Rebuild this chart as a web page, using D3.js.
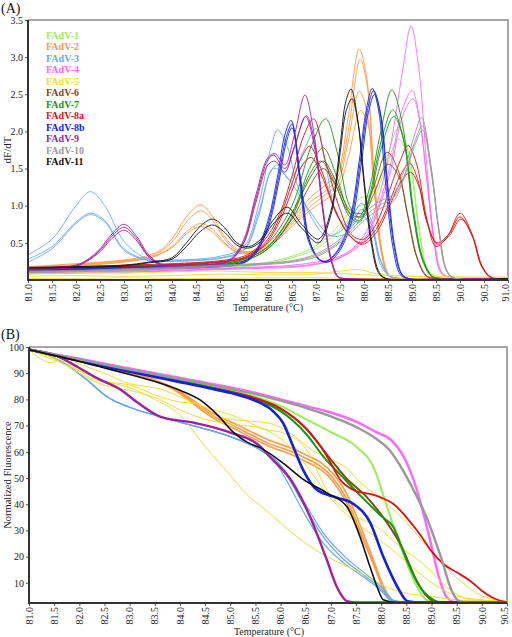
<!DOCTYPE html>
<html><head><meta charset="utf-8">
<script src="https://cdn.jsdelivr.net/npm/d3@7"></script>
<style>body{margin:0;background:#fff}svg{display:block}text{font-family:"Liberation Serif","DejaVu Serif",serif}</style>
</head><body><svg id="c" width="512" height="637"></svg>
<script>
// ---------- categories & colours ----------
const types = ["FAdV-1","FAdV-2","FAdV-3","FAdV-4","FAdV-5","FAdV-6","FAdV-7","FAdV-8a","FAdV-8b","FAdV-9","FAdV-10","FAdV-11"];
const typeColors = ["#99ee55","#ff9944","#66aaf0","#ff66ff","#eedd33","#8b4513","#119911","#dd1111","#1122dd","#a020a0","#999999","#111111"];

// ---------- tick labels ----------
const tempTicksA = [81.0,81.5,82.0,82.5,83.0,83.5,84.0,84.5,85.0,85.5,86.0,86.5,87.0,87.5,88.0,88.5,89.0,89.5,90.0,90.5,91.0];
const dfTicks = [0.5,1.0,1.5,2.0,2.5,3.0,3.5];
const tempTicksB = [81.0,81.5,82.0,82.5,83.0,83.5,84.0,84.5,85.0,85.5,86.0,86.5,87.0,87.5,88.0,88.5,89.0,89.5,90.0,90.5];
const fluorTicks = [10,20,30,40,50,60,70,80,90,100];

// ---------- (A) derivative melt curves, [temperature, dF/dT] per replicate ----------
const derivFAdV1 = [
 [[81,0.1],[82,0.1],[83,0.12],[84,0.14],[85,0.17],[85.5,0.2],[86,0.24],[86.5,0.32],[87,0.46],[87.5,0.75],[87.92,1.1],[88.15,1.15],[88.45,1.6],[88.72,2.05],[88.95,1.65],[89.15,0.7],[89.35,0.12],[89.6,0.03],[91,0.02]],
 [[81,0.08],[82,0.09],[83,0.1],[84,0.12],[85,0.15],[85.5,0.18],[86,0.22],[86.5,0.3],[87,0.42],[87.5,0.68],[87.92,1.0],[88.15,1.05],[88.45,1.5],[88.72,1.9],[88.95,1.55],[89.15,0.65],[89.35,0.1],[89.6,0.03],[91,0.02]]
];
const derivFAdV2 = [
 [[81,0.18],[81.5,0.2],[82,0.22],[82.5,0.24],[83,0.27],[83.5,0.33],[83.8,0.42],[84.05,0.6],[84.3,0.85],[84.6,1.01],[84.85,0.85],[85.1,0.58],[85.35,0.42],[85.6,0.38],[85.85,0.44],[86.1,0.55],[86.5,0.82],[86.9,1.12],[87.2,1.28],[87.45,1.45],[87.65,2.1],[87.9,3.11],[88.05,2.75],[88.2,1.45],[88.35,0.45],[88.5,0.08],[88.7,0.02],[91,0.02]],
 [[81,0.17],[81.5,0.19],[82,0.21],[82.5,0.23],[83,0.26],[83.5,0.31],[83.8,0.4],[84.05,0.55],[84.3,0.78],[84.6,0.93],[84.85,0.8],[85.1,0.55],[85.35,0.4],[85.6,0.37],[85.85,0.42],[86.1,0.52],[86.5,0.78],[86.9,1.06],[87.2,1.2],[87.45,1.38],[87.67,2.0],[87.92,2.97],[88.07,2.6],[88.22,1.35],[88.37,0.4],[88.52,0.07],[88.7,0.02],[91,0.02]],
 [[81,0.16],[81.5,0.18],[82,0.2],[82.5,0.22],[83,0.25],[83.5,0.3],[83.8,0.37],[84.05,0.48],[84.3,0.65],[84.6,0.76],[84.85,0.68],[85.1,0.5],[85.35,0.38],[85.6,0.36],[85.85,0.4],[86.1,0.5],[86.5,0.75],[86.9,1.0],[87.2,1.15],[87.45,1.3],[87.65,1.8],[87.9,2.54],[88.05,2.3],[88.2,1.3],[88.35,0.4],[88.5,0.07],[88.7,0.02],[91,0.02]],
 [[81,0.15],[81.5,0.17],[82,0.19],[82.5,0.21],[83,0.24],[83.5,0.29],[83.8,0.36],[84.05,0.46],[84.3,0.62],[84.6,0.72],[84.85,0.64],[85.1,0.48],[85.35,0.37],[85.6,0.35],[85.85,0.39],[86.1,0.48],[86.5,0.72],[86.9,0.95],[87.2,1.08],[87.45,1.22],[87.67,1.65],[87.93,2.28],[88.08,2.1],[88.23,1.2],[88.38,0.35],[88.53,0.06],[88.7,0.02],[91,0.02]]
];
const derivFAdV3 = [
 [[81,0.34],[81.5,0.55],[82,1.0],[82.3,1.19],[82.6,1.0],[83,0.52],[83.5,0.28],[84,0.27],[84.5,0.28],[85,0.32],[85.5,0.45],[85.8,1.0],[86.05,1.75],[86.2,2.02],[86.4,1.8],[86.6,1.3],[86.9,0.85],[87.2,0.6],[87.5,0.65],[87.75,0.85],[87.95,1.03],[88.15,0.8],[88.35,0.25],[88.55,0.05],[88.8,0.02],[91,0.02]],
 [[81,0.28],[81.5,0.45],[82,0.78],[82.3,0.9],[82.6,0.8],[83,0.42],[83.5,0.27],[84,0.26],[84.5,0.27],[85,0.3],[85.5,0.42],[85.8,0.9],[86.05,1.45],[86.2,1.55],[86.45,1.35],[86.75,1.75],[87.0,2.04],[87.2,1.55],[87.45,0.85],[87.7,0.72],[87.95,0.95],[88.15,0.75],[88.35,0.25],[88.55,0.05],[88.8,0.02],[91,0.02]],
 [[81,0.24],[81.5,0.42],[82,0.76],[82.3,0.88],[82.6,0.78],[83,0.4],[83.5,0.26],[84,0.25],[84.5,0.26],[85,0.29],[85.5,0.4],[85.8,0.85],[86.1,1.5],[86.3,1.45],[86.6,1.2],[86.9,0.9],[87.3,0.6],[87.6,0.62],[87.9,0.9],[88.15,0.7],[88.35,0.2],[88.55,0.04],[88.8,0.02],[91,0.02]]
];
const derivFAdV4 = [
 [[81,0.1],[82,0.1],[83,0.12],[84,0.13],[85,0.15],[86,0.17],[86.5,0.18],[87,0.22],[87.5,0.3],[88,0.6],[88.3,1.1],[88.55,1.8],[88.8,2.8],[88.98,3.42],[89.15,2.8],[89.3,1.6],[89.45,0.6],[89.6,0.12],[89.8,0.03],[91,0.02]],
 [[81,0.12],[82,0.12],[83,0.14],[84,0.15],[85,0.16],[86,0.18],[86.5,0.2],[87,0.24],[87.5,0.32],[88,0.55],[88.3,1.0],[88.55,1.55],[88.8,2.3],[89.0,2.55],[89.15,2.2],[89.3,1.4],[89.45,0.55],[89.6,0.1],[89.8,0.03],[91,0.02]],
 [[81,0.09],[82,0.1],[83,0.11],[84,0.12],[85,0.14],[86,0.16],[86.5,0.17],[87,0.21],[87.5,0.3],[88,0.52],[88.3,0.95],[88.55,1.45],[88.8,2.2],[89.02,2.44],[89.17,2.1],[89.32,1.3],[89.47,0.5],[89.62,0.1],[89.8,0.03],[91,0.02]]
];
const derivFAdV5 = [
 [[81,0.05],[82,0.06],[83,0.05],[84,0.06],[85,0.08],[86,0.07],[87,0.08],[87.5,0.12],[87.9,0.14],[88.3,0.08],[89,0.05],[90,0.04],[91,0.03]],
 [[81,0.02],[82,0.02],[83,0.03],[84,0.02],[85,0.02],[86,0.03],[87,0.03],[88,0.02],[89,0.02],[90,0.02],[91,0.02]],
 [[81,0.08],[82,0.1],[83,0.09],[84,0.11],[85,0.12],[86,0.1],[87,0.1],[88,0.07],[89,0.05],[90,0.04],[91,0.04]]
];
const derivFAdV6 = [
 [[81,0.14],[82,0.16],[83,0.18],[84,0.2],[85,0.22],[85.5,0.28],[86,0.45],[86.5,0.9],[86.9,1.4],[87.15,1.6],[87.4,1.35],[87.7,0.95],[87.95,0.9],[88.2,1.25],[88.48,1.72],[88.7,1.5],[88.9,0.9],[89.1,0.3],[89.3,0.05],[89.5,0.02],[91,0.02]],
 [[81,0.13],[82,0.15],[83,0.17],[84,0.19],[85,0.21],[85.5,0.26],[86,0.42],[86.5,0.82],[86.9,1.3],[87.15,1.5],[87.4,1.28],[87.7,0.9],[87.95,0.85],[88.2,1.15],[88.5,1.56],[88.72,1.4],[88.92,0.85],[89.12,0.28],[89.32,0.05],[89.5,0.02],[91,0.02]]
];
const derivFAdV7 = [
 [[81,0.15],[82,0.16],[83,0.18],[84,0.2],[85,0.24],[85.5,0.3],[86,0.5],[86.5,1.0],[86.9,1.8],[87.2,2.17],[87.45,1.7],[87.7,1.0],[87.9,0.85],[88.1,1.2],[88.35,2.0],[88.58,2.56],[88.8,2.1],[89.0,1.0],[89.2,0.3],[89.4,0.05],[89.6,0.02],[91,0.02]],
 [[81,0.14],[82,0.15],[83,0.17],[84,0.19],[85,0.22],[85.5,0.28],[86,0.45],[86.5,0.9],[86.9,1.55],[87.15,1.78],[87.4,1.45],[87.7,0.9],[87.9,0.8],[88.1,1.1],[88.35,1.85],[88.6,2.29],[88.82,1.9],[89.02,0.95],[89.22,0.28],[89.42,0.05],[89.6,0.02],[91,0.02]],
 [[81,0.13],[82,0.14],[83,0.16],[84,0.18],[85,0.21],[85.5,0.26],[86,0.42],[86.5,0.85],[86.85,1.4],[87.1,1.6],[87.4,1.3],[87.7,0.85],[87.9,0.78],[88.1,1.05],[88.37,1.8],[88.62,2.2],[88.84,1.85],[89.04,0.9],[89.24,0.26],[89.44,0.04],[89.6,0.02],[91,0.02]]
];
const derivFAdV8a = [
 [[81,0.16],[82,0.18],[83,0.2],[84,0.22],[85,0.26],[85.5,0.32],[85.75,0.42],[86,0.6],[86.25,0.9],[86.5,1.4],[86.75,1.95],[86.95,2.17],[87.2,1.6],[87.5,0.95],[87.75,0.6],[88,0.55],[88.25,0.75],[88.5,1.15],[88.75,1.6],[88.92,1.81],[89.1,1.55],[89.3,0.85],[89.5,0.45],[89.75,0.6],[90,0.9],[90.25,0.62],[90.45,0.2],[90.65,0.03],[91,0.02]],
 [[81,0.15],[82,0.17],[83,0.19],[84,0.21],[85,0.25],[85.5,0.3],[85.75,0.4],[86,0.55],[86.25,0.85],[86.5,1.3],[86.7,1.65],[86.87,1.8],[87.1,1.5],[87.4,0.95],[87.7,0.6],[87.95,0.5],[88.25,0.68],[88.5,1.0],[88.75,1.4],[88.95,1.57],[89.12,1.35],[89.3,0.8],[89.52,0.5],[89.77,0.62],[90,0.85],[90.25,0.6],[90.45,0.18],[90.65,0.03],[91,0.02]],
 [[81,0.14],[82,0.16],[83,0.18],[84,0.2],[85,0.24],[85.5,0.29],[85.75,0.38],[86,0.52],[86.25,0.8],[86.5,1.2],[86.72,1.55],[86.9,1.65],[87.12,1.4],[87.42,0.9],[87.72,0.58],[87.97,0.48],[88.27,0.65],[88.52,0.98],[88.77,1.32],[88.97,1.45],[89.15,1.25],[89.33,0.75],[89.53,0.48],[89.78,0.6],[90.02,0.82],[90.27,0.57],[90.47,0.17],[90.67,0.03],[91,0.02]]
];
const derivFAdV8b = [
 [[81,0.14],[82,0.15],[83,0.17],[84,0.18],[85,0.2],[85.5,0.25],[85.75,0.4],[86,0.8],[86.2,1.4],[86.35,1.95],[86.48,2.15],[86.65,1.4],[86.83,0.55],[87.05,0.28],[87.2,0.25],[87.45,0.4],[87.7,0.8],[87.9,1.6],[88.05,2.3],[88.17,2.58],[88.3,2.3],[88.45,1.3],[88.6,0.45],[88.75,0.08],[88.9,0.02],[91,0.02]],
 [[81,0.13],[82,0.14],[83,0.16],[84,0.17],[85,0.19],[85.5,0.24],[85.75,0.38],[86,0.75],[86.22,1.38],[86.37,1.9],[86.5,2.1],[86.67,1.38],[86.85,0.55],[87.07,0.28],[87.22,0.25],[87.47,0.4],[87.72,0.8],[87.92,1.58],[88.07,2.28],[88.2,2.55],[88.33,2.28],[88.48,1.28],[88.63,0.44],[88.78,0.08],[88.92,0.02],[91,0.02]],
 [[81,0.12],[82,0.13],[83,0.15],[84,0.16],[85,0.18],[85.5,0.23],[85.75,0.36],[86,0.7],[86.22,1.3],[86.38,1.85],[86.5,2.05],[86.68,1.35],[86.87,0.52],[87.08,0.27],[87.24,0.24],[87.48,0.38],[87.74,0.78],[87.94,1.55],[88.09,2.25],[88.22,2.5],[88.35,2.22],[88.5,1.25],[88.65,0.42],[88.8,0.07],[88.94,0.02],[91,0.02]]
];
const derivFAdV9 = [
 [[81,0.15],[81.5,0.17],[82,0.2],[82.25,0.28],[82.5,0.42],[82.75,0.62],[83,0.75],[83.25,0.6],[83.5,0.35],[83.75,0.22],[84,0.2],[84.5,0.2],[85,0.23],[85.25,0.3],[85.5,0.55],[85.75,1.15],[86.0,1.65],[86.15,1.7],[86.35,1.55],[86.55,1.95],[86.77,2.49],[86.95,2.0],[87.15,0.9],[87.3,0.3],[87.45,0.04],[87.6,0.02],[91,0.02]],
 [[81,0.14],[81.5,0.16],[82,0.19],[82.25,0.27],[82.5,0.4],[82.75,0.59],[83,0.71],[83.25,0.57],[83.5,0.33],[83.75,0.21],[84,0.19],[84.5,0.19],[85,0.22],[85.25,0.28],[85.5,0.5],[85.75,1.05],[86.0,1.55],[86.15,1.6],[86.35,1.45],[86.55,1.8],[86.8,2.21],[86.97,1.85],[87.17,0.85],[87.32,0.28],[87.47,0.04],[87.6,0.02],[91,0.02]],
 [[81,0.13],[81.5,0.15],[82,0.18],[82.25,0.26],[82.5,0.38],[82.75,0.56],[83,0.67],[83.25,0.54],[83.5,0.32],[83.75,0.2],[84,0.18],[84.5,0.18],[85,0.21],[85.25,0.28],[85.5,0.52],[85.75,1.1],[86.0,1.62],[86.12,1.68],[86.35,1.5],[86.55,1.78],[86.78,2.2],[86.96,1.82],[87.16,0.84],[87.31,0.28],[87.46,0.04],[87.6,0.02],[91,0.02]]
];
const derivFAdV10 = [
 [[81,0.12],[82,0.13],[83,0.15],[84,0.17],[85,0.2],[86,0.23],[86.5,0.26],[87,0.35],[87.5,0.55],[88,0.9],[88.3,1.05],[88.6,1.15],[88.85,1.5],[89.05,1.95],[89.2,2.19],[89.38,1.6],[89.55,0.7],[89.7,0.15],[89.85,0.03],[91,0.02]],
 [[81,0.11],[82,0.12],[83,0.14],[84,0.16],[85,0.19],[86,0.22],[86.5,0.25],[87,0.33],[87.5,0.52],[88,0.85],[88.3,1.0],[88.6,1.1],[88.85,1.42],[89.05,1.85],[89.22,2.08],[89.4,1.5],[89.57,0.65],[89.72,0.14],[89.87,0.03],[91,0.02]],
 [[81,0.1],[82,0.11],[83,0.13],[84,0.15],[85,0.18],[86,0.21],[86.5,0.24],[87,0.31],[87.5,0.5],[88,0.8],[88.3,0.95],[88.6,1.05],[88.85,1.4],[89.05,1.8],[89.22,2.02],[89.4,1.45],[89.57,0.62],[89.72,0.13],[89.87,0.03],[91,0.02]]
];
const derivFAdV11 = [
 [[81,0.17],[82,0.18],[83,0.2],[83.5,0.24],[84,0.3],[84.3,0.5],[84.6,0.73],[84.85,0.82],[85.1,0.7],[85.35,0.5],[85.6,0.45],[85.85,0.55],[86.1,0.8],[86.4,0.98],[86.7,0.75],[87.05,0.55],[87.3,0.9],[87.5,1.8],[87.62,2.4],[87.73,2.57],[87.86,2.2],[88.0,1.3],[88.15,0.5],[88.3,0.1],[88.45,0.02],[91,0.02]],
 [[81,0.16],[82,0.17],[83,0.19],[83.5,0.23],[84,0.28],[84.3,0.45],[84.6,0.66],[84.85,0.74],[85.1,0.64],[85.35,0.47],[85.6,0.43],[85.85,0.52],[86.1,0.75],[86.4,0.9],[86.7,0.7],[87.05,0.5],[87.3,0.85],[87.5,1.7],[87.63,2.28],[87.75,2.44],[87.88,2.1],[88.02,1.25],[88.17,0.48],[88.32,0.1],[88.47,0.02],[91,0.02]]
];

// ---------- (B) normalized melt curves, [temperature, fluorescence %] ----------
const meltFAdV1 = [
 [[81,99],[81.5,97.2],[82,95.4],[82.5,93.5],[83,91.6],[83.5,89.6],[84,87.6],[84.5,85.6],[85,83.5],[85.5,81],[86,77.5],[86.5,72.5],[87,67.5],[87.5,62],[87.85,54],[88.1,40],[88.4,23],[88.7,9],[88.9,3.5],[89.2,2.5],[90.5,2.5]]
];
const meltFAdV2 = [
 [[81,99],[81.5,96.8],[82,94.6],[82.5,92.3],[83,90],[83.5,87.5],[84,83],[84.4,77.8],[84.7,74.2],[85.06,71],[85.4,67.8],[85.73,64.8],[86.4,59.8],[87.05,51.5],[87.3,44.5],[87.6,31],[87.85,18.5],[88.05,8.5],[88.25,3.2],[88.5,2.5],[90.5,2.5]],
 [[81,99],[81.5,96.8],[82,94.6],[82.5,92.3],[83,90],[83.5,87.3],[84,82.6],[84.4,77],[84.7,73.2],[85.06,70],[85.4,66.6],[85.73,63.5],[86.4,58.5],[87.05,49.8],[87.3,42.5],[87.6,29],[87.85,17],[88.05,7.5],[88.25,3],[88.5,2.5],[90.5,2.5]],
 [[81,99],[81.5,96.8],[82,94.6],[82.5,92.3],[83,90],[83.5,87.1],[84,82.2],[84.4,76.3],[84.7,72.4],[85.06,69],[85.4,65.6],[85.73,62.5],[86.4,57.3],[87.05,48.5],[87.3,41],[87.6,28],[87.9,15],[88.1,6],[88.3,2.8],[88.5,2.5],[90.5,2.5]]
];
const meltFAdV3 = [
 [[81,99],[81.6,95],[82.15,87.5],[82.55,81],[83,77],[83.6,73.5],[84.3,69.8],[85,65.8],[85.6,60.7],[85.9,56],[86.12,49],[86.4,39],[86.8,26.3],[87.25,17.6],[87.65,12.2],[88,7],[88.2,3.2],[88.5,2.5],[90.5,2.5]],
 [[81,99],[81.6,95],[82.15,87.5],[82.55,81],[83,77],[83.6,73.5],[84.3,69.8],[85,65.8],[85.6,60.7],[85.9,57],[86.15,51],[86.45,41.5],[86.85,29],[87.25,20.5],[87.65,14],[88,8.5],[88.25,3.2],[88.5,2.5],[90.5,2.5]],
 [[81,99],[81.6,95],[82.15,87.5],[82.55,81],[83,77],[83.6,73.5],[84.3,69.8],[85,65.8],[85.6,60.7],[85.9,56.5],[86.15,50],[86.45,40],[86.85,27.5],[87.25,19],[87.65,13],[88,7.7],[88.22,3],[88.5,2.5],[90.5,2.5]]
];
const meltFAdV4 = [
 [[81,99],[81.5,97.3],[82,95.5],[82.5,93.6],[83,91.8],[83.5,90],[84,88.2],[84.5,86.4],[85,84.6],[85.5,82.5],[86,80],[86.5,77.5],[87,75],[87.5,71.5],[87.9,67.5],[88.2,64.5],[88.45,58],[88.7,46],[88.95,28],[89.15,12],[89.3,4.5],[89.5,2.5],[90.5,2.5]]
];
const meltFAdV5 = [
 [[81,99],[81.5,95],[82,91],[82.5,87],[83,84.5],[83.5,80],[84,74],[84.5,62],[85,51],[85.3,44.3],[85.7,37.8],[86,32.8],[86.6,23.7],[87.05,18.7],[87.6,13.7],[88.1,8.4],[88.5,6],[88.9,5],[89.5,3.5],[90,3],[90.5,2.5]],
 [[81,99],[81.45,94],[81.7,96],[82,93.5],[82.5,90],[83,86],[83.3,85],[83.6,84],[84,81],[84.43,77.5],[85.1,73.5],[85.75,68.3],[86,67.5],[86.52,60.7],[86.92,45.4],[87.38,36.6],[87.92,31.3],[88.38,23.7],[88.91,16],[89.3,8.4],[89.8,3.5],[90.5,3]],
 [[81,99],[81.5,96],[82,91],[82.3,87.5],[82.6,86.5],[83,85.5],[83.6,81],[84,79],[84.3,78.5],[84.6,74],[85.2,72],[85.75,71],[86.2,67],[86.6,61],[87,57],[87.3,54],[87.6,48],[88,42],[88.5,33],[89,22],[89.5,12],[90,5],[90.5,3]],
 [[81,99],[81.5,95.5],[82,90],[82.4,86],[82.8,84.2],[83.2,82.5],[83.6,80],[84,76],[84.5,72.5],[85,70.5],[85.5,69.5],[86,65],[86.5,55],[87,42],[87.5,33],[88,26],[88.5,18],[89,10],[89.5,5],[90,3.5],[90.5,2.8]]
];
const meltFAdV6 = [
 [[81,99],[81.5,97],[82,95],[82.5,93],[83,91],[83.5,89],[84,87],[84.5,85],[85,83],[85.5,80.5],[86,76.5],[86.5,69],[87,57],[87.3,50],[87.7,43],[88,36],[88.4,24],[88.7,11],[88.9,5],[89.1,2.7],[90.5,2.5]]
];
const meltFAdV7 = [
 [[81,99],[81.5,97],[82,95],[82.5,93],[83,91],[83.5,89],[84,87],[84.5,85],[85,82.8],[85.5,80],[86,75.5],[86.5,67],[86.9,57],[87.2,51],[87.6,43],[88,35.5],[88.25,31],[88.5,19],[88.75,9],[89,4],[89.2,2.5],[90.5,2.5]]
];
const meltFAdV8a = [
 [[81,99],[81.5,96.9],[82,94.8],[82.5,92.8],[83,90.8],[83.5,88.8],[84,86.8],[84.5,84.8],[85,82.8],[85.5,80.3],[86,76.5],[86.5,69],[86.9,59],[87.2,49],[87.5,45],[87.75,44],[88,42.5],[88.25,40],[88.5,35],[88.75,29],[89,22],[89.25,17],[89.5,14],[89.75,11],[90,7],[90.25,4],[90.5,2.5]]
];
const meltFAdV8b = [
 [[81,99],[81.5,96.9],[82,94.8],[82.5,92.7],[83,90.6],[83.5,88.6],[84,86.6],[84.5,84.6],[85,82.5],[85.5,79.5],[85.85,75.5],[86.05,71],[86.25,62],[86.45,53],[86.72,45.5],[87.12,42.5],[87.44,40.2],[87.78,33],[88.04,20],[88.32,8.5],[88.52,3],[88.8,2.5],[90.5,2.5]]
];
const meltFAdV9 = [
 [[81,99],[81.5,97],[82,92],[82.31,88.5],[82.83,83.6],[83.17,78.6],[83.62,73.3],[84.3,71],[84.96,67.6],[85.61,61.8],[85.79,58],[86.25,48],[86.59,35],[86.92,18.7],[87.12,8.4],[87.32,3],[87.5,2.5],[90.5,2.5]]
];
const meltFAdV10 = [
 [[81,99],[81.5,97.2],[82,95.3],[82.5,93.3],[83,91.4],[83.5,89.6],[84,87.8],[84.5,86],[85,84],[85.5,82],[86,79.5],[86.5,76.8],[87,73.5],[87.5,69.5],[87.9,65],[88.15,61],[88.4,54],[88.6,47],[88.9,35],[89.2,19],[89.4,7],[89.55,3],[89.8,2.5],[90.5,2.5]]
];
const meltFAdV11 = [
 [[81,99],[81.5,96.8],[82,94.5],[82.5,92],[83,89.5],[83.4,87.4],[84,83.5],[84.4,79.8],[84.75,74],[85.06,67.5],[85.35,63.5],[85.6,61.5],[86.05,55.7],[86.45,49.5],[86.92,44.3],[87.32,39],[87.58,27.5],[87.78,16],[87.92,8.4],[88.04,3.5],[88.3,2.5],[90.5,2.5]]
];

const derivData = [derivFAdV1,derivFAdV2,derivFAdV3,derivFAdV4,derivFAdV5,derivFAdV6,derivFAdV7,derivFAdV8a,derivFAdV8b,derivFAdV9,derivFAdV10,derivFAdV11];
const meltData = [meltFAdV1,meltFAdV2,meltFAdV3,meltFAdV4,meltFAdV5,meltFAdV6,meltFAdV7,meltFAdV8a,meltFAdV8b,meltFAdV9,meltFAdV10,meltFAdV11];
const meltWidth = [2,1.6,1.2,2.4,1,2,2,1.8,2.6,2.4,2.4,1.6];

const FONT = "Liberation Serif, DejaVu Serif, serif";
const svg = d3.select("#c");

function drawPanel(o) {
  const g = svg.append("g").attr("font-family", FONT);
  const x = d3.scaleLinear().domain(o.xDomain).range([o.left, o.right]);
  const y = d3.scaleLinear().domain(o.yDomain).range([o.bottom, o.top]);
  const clipId = "clip" + o.id;
  svg.append("clipPath").attr("id", clipId).append("rect")
    .attr("x", o.left).attr("y", o.top).attr("width", o.right - o.left).attr("height", o.bottom - o.top);
  g.append("path").attr("d", `M${o.left},${o.top}H${o.right}V${o.bottom}`)
    .attr("fill","none").attr("stroke","#8a8a8a").attr("stroke-width",1.5);
  const line = d3.line().x(d => x(d[0])).y(d => y(d[1])).curve(o.curve);
  const lg = g.append("g").attr("clip-path", `url(#${clipId})`);
  o.data.forEach((reps, i) => {
    reps.forEach(r => {
      lg.append("path").attr("d", line(r)).attr("fill","none")
        .attr("stroke", typeColors[i]).attr("stroke-width", o.width(i)).attr("stroke-linejoin","round");
    });
  });
  const ya = g.append("g").attr("transform", `translate(${o.left},0)`)
    .call(d3.axisLeft(y).tickValues(o.yTicks).tickFormat(o.yFormat).tickSize(3).tickPadding(2));
  ya.attr("font-family", FONT);
  ya.select(".domain").remove();
  ya.selectAll("text").attr("font-size", 10).attr("fill","#222");
  ya.selectAll("line").attr("stroke","#555");
  const xa = g.append("g").attr("transform", `translate(0,${o.bottom})`)
    .call(d3.axisBottom(x).tickValues(o.xTicks).tickFormat(d3.format(".1f")).tickSize(3));
  xa.attr("font-family", FONT);
  xa.select(".domain").remove();
  xa.selectAll("line").attr("stroke","#555");
  const n = o.xTicks.length;
  xa.selectAll("text").attr("font-size", 10).attr("fill","#222")
    .attr("transform", (d, i) => i === n - 1 && o.shiftLast ? "translate(-3,0) rotate(-90)" : "rotate(-90)")
    .attr("x",-4).attr("y",0).attr("dy","0.32em").attr("text-anchor","end");
  g.append("path").attr("d", `M${o.left},${o.top}V${o.bottom}H${o.right}`)
    .attr("fill","none").attr("stroke","#333").attr("stroke-width",2);
  g.append("text").attr("x", o.xLabelX).attr("y", o.xLabelY).attr("text-anchor","middle")
    .attr("font-size", 10).attr("fill","#222").text("Temperature (°C)");
  g.append("text").attr("transform", `translate(${o.yLabelX},${(o.top + o.bottom) / 2}) rotate(-90)`)
    .attr("text-anchor","middle").attr("font-size", o.yLabelSize).attr("fill","#222").text(o.yLabel);
  g.append("text").attr("x", 1).attr("y", o.tagY).attr("font-size", 14).attr("fill","#111").text(o.tag);
  return {x, y, g};
}

const A = drawPanel({id:"A", left:28, right:508, top:20, bottom:280, xDomain:[81,91], yDomain:[0,3.5],
  xTicks:tempTicksA, yTicks:dfTicks, yFormat:d3.format(".1f"), data:derivData, shiftLast:true,
  curve:d3.curveCatmullRom.alpha(0.5), width:() => 0.9,
  xLabelX:268, xLabelY:311, yLabel:"dF/dT", yLabelX:11, yLabelSize:11, tag:"(A)", tagY:13});

const leg = A.g.append("g").attr("font-family", FONT);
types.forEach((t, i) => {
  leg.append("text").attr("x", 46).attr("y", 38.5 + i * 11.5).attr("font-size", 10)
    .attr("font-weight","bold").attr("fill", typeColors[i]).text(t);
});

drawPanel({id:"B", left:29, right:507, top:347, bottom:603, xDomain:[81,90.5], yDomain:[2.3,100],
  xTicks:tempTicksB, yTicks:fluorTicks, yFormat:d3.format("d"), data:meltData, shiftLast:true,
  curve:d3.curveMonotoneX, width:i => meltWidth[i],
  xLabelX:269, xLabelY:635, yLabel:"Normalized Fluorescence", yLabelX:11, yLabelSize:10.5, tag:"(B)", tagY:339});
</script></body></html>
